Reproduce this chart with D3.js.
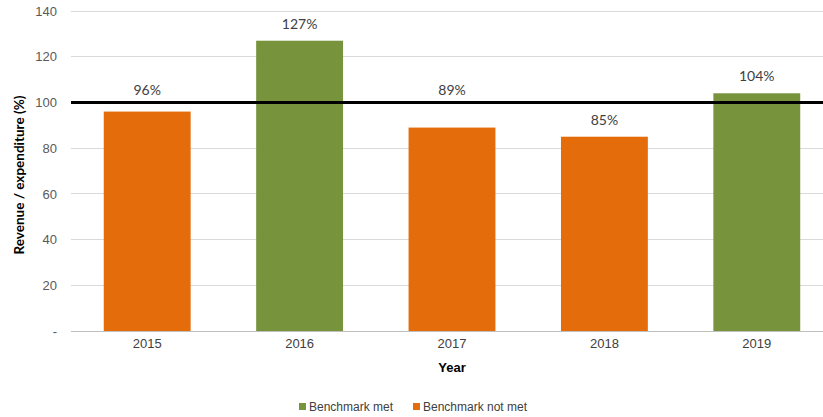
<!DOCTYPE html>
<html><head><meta charset="utf-8">
<script src="https://cdn.jsdelivr.net/npm/d3@7"></script>
<style>body{margin:0;background:#fff;} svg{display:block;}</style>
</head><body>
<svg id="c" width="823" height="417"></svg>
<script>
const years = ["2015","2016","2017","2018","2019"];
const values = [96, 127, 89, 85, 104];
const metFlags = [false, true, false, false, true];
const yTicks = [0, 20, 40, 60, 80, 100, 120, 140];
const yTickLabels = ["-", "20", "40", "60", "80", "100", "120", "140"];
const benchmark = 100;
const legendLabels = ["Benchmark met", "Benchmark not met"];
const colors = {met: "#77933C", notMet: "#E46C0A"};

(function () {
const svg = d3.select("#c");
const mLeft = 71, mRight = 833, mTop = 11, mBottom = 331;
const x = d3.scaleBand().domain(years).range([mLeft, mRight]).paddingInner(0.43).paddingOuter(0.215);
const y = d3.scaleLinear().domain([0, 140]).range([mBottom, mTop]);

// gridlines
svg.append("g").selectAll("line").data(yTicks.filter(d => d > 0)).join("line")
  .attr("x1", mLeft).attr("x2", mRight).attr("y1", d => y(d)).attr("y2", d => y(d))
  .attr("stroke", "#d9d9d9").attr("stroke-width", 1).attr("shape-rendering", "crispEdges");

// y axis labels
const yAxis = d3.axisLeft(y).tickValues(yTicks).tickSize(0).tickPadding(0)
  .tickFormat((d, i) => yTickLabels[i]);
const gy = svg.append("g").attr("transform", `translate(${mLeft - 14},0)`).call(yAxis);
gy.select(".domain").remove();
gy.selectAll("text").attr("font-family", "Liberation Sans, Arial, sans-serif").attr("font-size", 13).attr("fill", "#595959");

// bars
svg.append("g").selectAll("rect").data(years).join("rect")
  .attr("x", d => x(d)).attr("width", x.bandwidth())
  .attr("y", (d, i) => y(values[i])).attr("height", (d, i) => y(0) - y(values[i]))
  .attr("fill", (d, i) => metFlags[i] ? colors.met : colors.notMet);

// x axis baseline
svg.append("line").attr("x1", mLeft).attr("x2", mRight).attr("y1", y(0)).attr("y2", y(0))
  .attr("stroke", "#bfbfbf").attr("stroke-width", 1).attr("shape-rendering", "crispEdges");

const xAxis = d3.axisBottom(x).tickSize(0).tickPadding(0);
const gx = svg.append("g").attr("transform", `translate(0,${y(0) + 8})`).call(xAxis);
gx.select(".domain").remove();
gx.selectAll("text").attr("font-family", "Liberation Sans, Arial, sans-serif").attr("font-size", 13).attr("fill", "#404040").attr("dy", "0.71em");

// benchmark line
svg.append("line").attr("x1", mLeft).attr("x2", mRight).attr("y1", y(benchmark)).attr("y2", y(benchmark))
  .attr("stroke", "#000").attr("stroke-width", 3);

// data labels
const lineY = y(benchmark);
svg.append("g").selectAll("text").data(years).join("text")
  .attr("x", d => x(d) + x.bandwidth() / 2)
  .attr("y", (d, i) => {
    let c = y(values[i]) - 17;
    if (Math.abs(c - lineY) < 12) c = lineY - 12;
    return c;
  })
  .attr("dy", "0.35em").attr("text-anchor", "middle")
  .attr("font-family", "Lato, 'Open Sans', sans-serif").attr("font-size", 14).attr("fill", "#404040")
  .text((d, i) => values[i] + "%");

// axis titles
svg.append("text").attr("transform", `translate(24,175) rotate(-90)`).attr("text-anchor", "middle")
  .attr("font-family", "Lato, sans-serif").attr("font-weight", "bold").attr("font-size", 13.5).attr("fill", "#000")
  .text("Revenue / expenditure (%)");
svg.append("text").attr("x", 452).attr("y", 372).attr("text-anchor", "middle")
  .attr("font-family", "Liberation Sans, Arial, sans-serif").attr("font-weight", "bold").attr("font-size", 13).attr("fill", "#000")
  .text("Year");

// legend
const lg = svg.append("g");
const legendX = [299, 413];
const legendColors = [colors.met, colors.notMet];
legendLabels.forEach((t, i) => {
  lg.append("rect").attr("x", legendX[i]).attr("y", 403).attr("width", 7).attr("height", 7).attr("fill", legendColors[i]);
  lg.append("text").attr("x", legendX[i] + 10).attr("y", 411)
    .attr("font-family", "Liberation Sans, Arial, sans-serif").attr("font-size", 12).attr("fill", "#404040").text(t);
});
})();
</script>
</body></html>
